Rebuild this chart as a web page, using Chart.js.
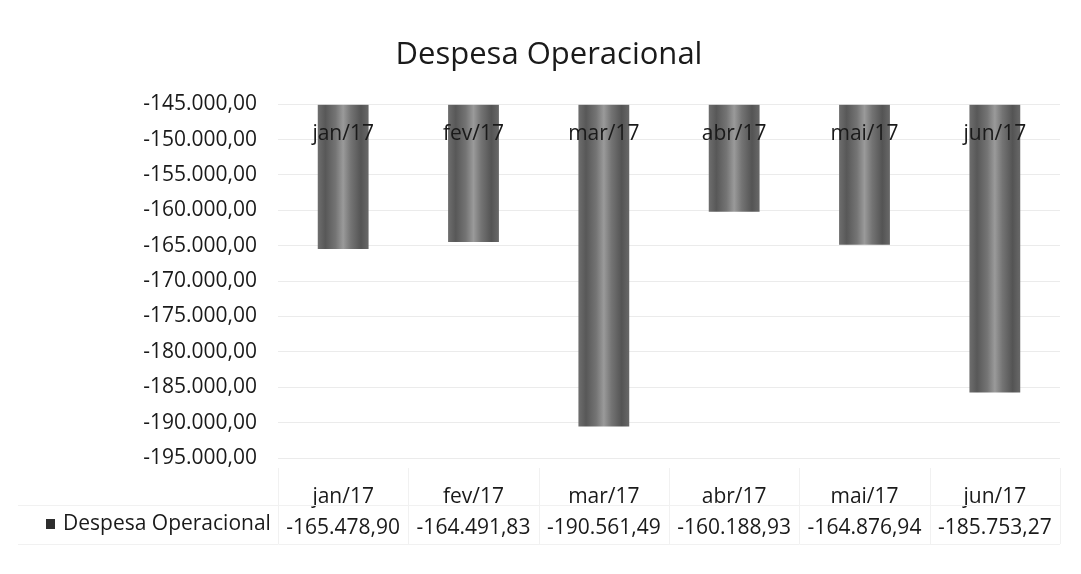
<!DOCTYPE html>
<html>
<head>
<meta charset="utf-8">
<script src="https://cdn.jsdelivr.net/npm/chart.js@4/dist/chart.umd.min.js"></script>
<style>
  html, body { margin: 0; padding: 0; background: #fff; }
  #wrap { width: 1081px; height: 574px; position: relative; }
</style>
</head>
<body>
<div id="wrap"><canvas id="grafico"></canvas></div>
<script>
// dados
const meses = ['jan/17', 'fev/17', 'mar/17', 'abr/17', 'mai/17', 'jun/17'];
const despesa = [-165478.90, -164491.83, -190561.49, -160188.93, -164876.94, -185753.27];
const serieNome = 'Despesa Operacional';
const eixoMin = -195000;
const eixoMax = -145000;
const eixoPasso = 5000;

const fonte = '"Open Sans", "Noto Sans", sans-serif';

// formato pt-BR: -145.000,00
function fmt(v) {
    const neg = v < 0;
    const partes = Math.abs(v).toFixed(2).split('.');
    const inteiro = partes[0].replace(/\B(?=(\d{3})+(?!\d))/g, '.');
    return (neg ? '-' : '') + inteiro + ',' + partes[1];
}

// gradiente listrado das barras (imitando a impressão)
function corBarra(c) {
    const chart = c.chart;
    if (!chart.chartArea) return '#6b6b6b';
    const x = chart.scales.x.getPixelForValue(c.dataIndex);
    const w = chart.scales.x.width / meses.length * 0.39;
    const g = chart.ctx.createLinearGradient(x - w / 2, 0, x + w / 2, 0);
    g.addColorStop(0, '#6e6e6e');
    g.addColorStop(0.15, '#585858');
    g.addColorStop(0.35, '#747474');
    g.addColorStop(0.5, '#9a9a9a');
    g.addColorStop(0.65, '#747474');
    g.addColorStop(0.85, '#545454');
    g.addColorStop(1, '#686868');
    return g;
}

// rótulos dentro das barras + legenda e linhas da tabela de dados
const extras = {
    id: 'extras',
    afterDatasetsDraw(chart) {
        const ctx = chart.ctx;
        const meta = chart.getDatasetMeta(0);
        const yBase = chart.scales.y.getPixelForValue(eixoMax);
        ctx.save();
        ctx.font = '21px ' + fonte;
        ctx.fillStyle = '#1a1a1a';
        ctx.textAlign = 'center';
        ctx.textBaseline = 'middle';
        meta.data.forEach((bar, i) => {
            ctx.fillText(meses[i], bar.x, yBase + 30);
        });
        ctx.restore();
    },
    afterDraw(chart) {
        const ctx = chart.ctx;
        const area = chart.chartArea;
        const xs = chart.scales.x;
        ctx.save();
        // linhas da tabela (quase apagadas na digitalização)
        ctx.strokeStyle = '#f1f1f1';
        ctx.lineWidth = 1;
        ctx.beginPath();
        ctx.moveTo(18, 505.5); ctx.lineTo(area.right, 505.5);
        ctx.moveTo(18, 544.5); ctx.lineTo(area.right, 544.5);
        for (let i = 0; i <= meses.length; i++) {
            const x = Math.round(xs.left + i * xs.width / meses.length) + 0.5;
            ctx.moveTo(x, area.bottom + 10); ctx.lineTo(x, 544);
        }
        ctx.stroke();
        // chave da legenda
        ctx.fillStyle = '#2e2e2e';
        ctx.fillRect(46, 519, 9, 10);
        ctx.font = '21px ' + fonte;
        ctx.fillStyle = '#1a1a1a';
        ctx.textAlign = 'left';
        ctx.textBaseline = 'middle';
        ctx.fillText(serieNome, 63, 524);
        ctx.restore();
    }
};

new Chart(document.getElementById('grafico'), {
    type: 'bar',
    data: {
        labels: meses,
        datasets: [{
            label: serieNome,
            data: despesa,
            base: eixoMax,
            backgroundColor: corBarra,
            borderWidth: 0,
            barPercentage: 0.39,
            categoryPercentage: 1
        }]
    },
    options: {
        responsive: true,
        maintainAspectRatio: false,
        animation: false,
        layout: { padding: { left: 38, right: 21, top: 0, bottom: 0 } },
        plugins: {
            legend: { display: false },
            tooltip: { enabled: false },
            title: {
                display: true,
                text: 'Despesa Operacional',
                color: '#1a1a1a',
                font: { family: fonte, size: 31, weight: 'normal' },
                padding: { top: 37, bottom: 30 }
            }
        },
        scales: {
            x: {
                grid: { display: false },
                border: { display: false },
                afterFit: s => { s.height = 116; },
                ticks: {
                    color: '#1a1a1a',
                    padding: 16,
                    maxRotation: 0,
                    font: { family: fonte, size: 21, lineHeight: 1.45 },
                    callback: (v, i) => [meses[i], fmt(despesa[i])]
                }
            },
            y: {
                min: eixoMin,
                max: eixoMax,
                afterFit: s => { s.width = 240; },
                border: { display: false },
                grid: { color: '#ebebeb', drawTicks: false },
                ticks: {
                    stepSize: eixoPasso,
                    color: '#1a1a1a',
                    padding: 21,
                    font: { family: fonte, size: 21 },
                    callback: v => fmt(v)
                }
            }
        }
    },
    plugins: [extras]
});
</script>
</body>
</html>
